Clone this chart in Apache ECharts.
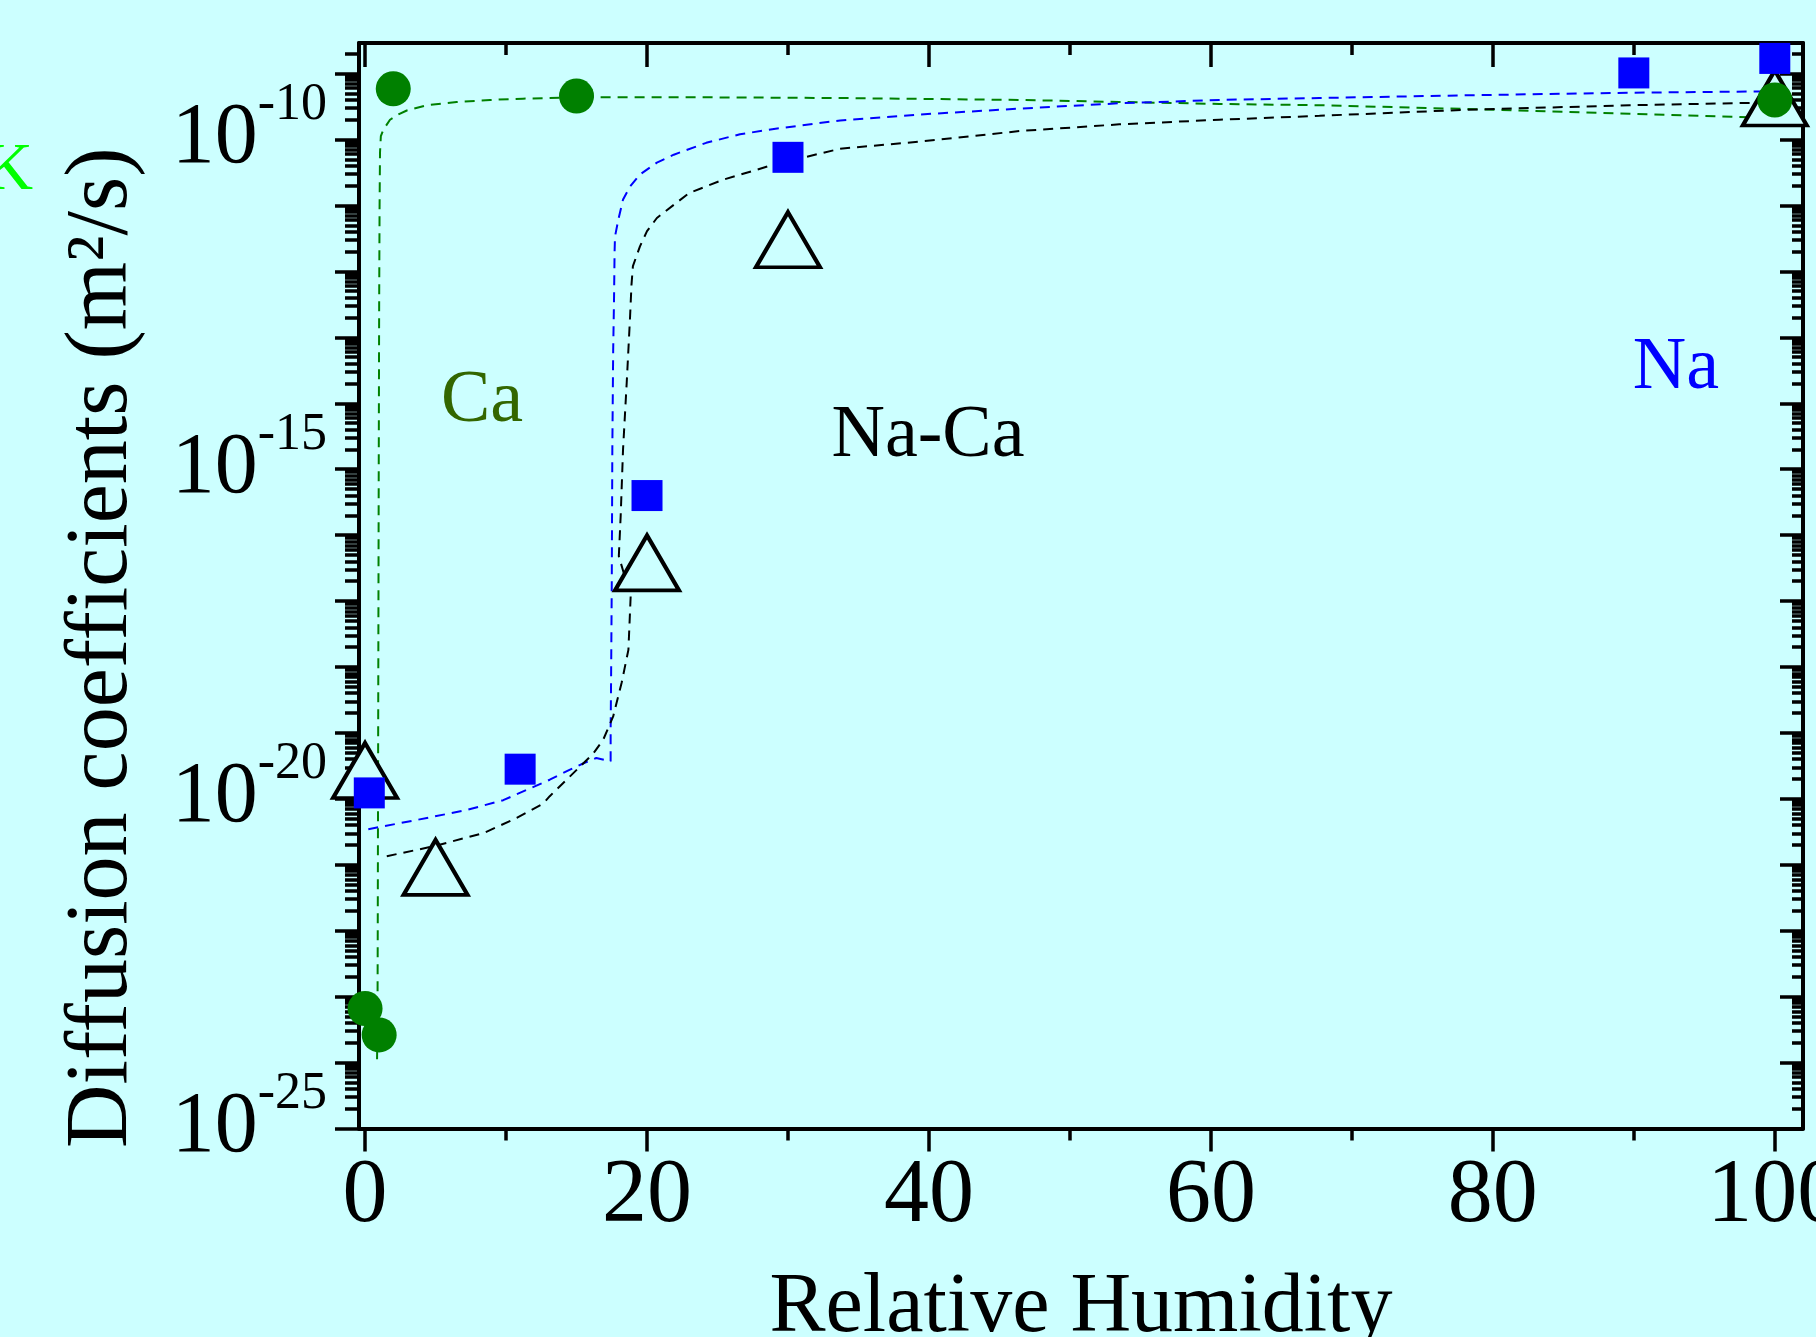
<!DOCTYPE html>
<html>
<head>
<meta charset="utf-8">
<script src="https://cdn.jsdelivr.net/npm/echarts@6/dist/echarts.min.js"></script>
<style>
html,body{margin:0;padding:0;background:#ccffff;}
#chart{width:1816px;height:1337px;}
</style>
</head>
<body>
<div id="chart"></div>
<script>
// ---------- data (relative humidity, log10 of diffusion coefficient in m^2/s) ----------
const rhNa = [0.3, 11, 20, 30, 90, 100];
const log10DNa = [-19.91, -19.55, -15.40, -10.27, -8.99, -8.77];

const rhCa = [0, 1, 2, 15, 100];
const log10DCa = [-23.18, -23.58, -9.23, -9.34, -9.40];

const rhNaCa = [0, 5, 20, 30, 100];
const log10DNaCa = [-19.57, -21.04, -16.42, -11.52, -9.37];

// dashed fit curves
const rhCaFit = [0.85, 0.88, 0.9, 0.92, 0.95, 0.97, 1.0, 1.03, 1.06, 1.12, 1.3, 1.77, 2.37, 2.96, 4.37, 6.5, 8.87, 11.2, 14.8, 24.2, 33.4, 46.5, 53.5, 60.6, 67.7, 80.5, 89.7, 99.4];
const log10DCaFit = [-23.95, -23.5, -22.0, -20.0, -17.0, -15.0, -12.5, -11.0, -10.2, -9.95, -9.85, -9.70, -9.62, -9.56, -9.48, -9.43, -9.40, -9.38, -9.36, -9.36, -9.37, -9.40, -9.43, -9.46, -9.48, -9.55, -9.61, -9.67];

const rhNaFit = [0.23, 3.67, 7.2, 9.8, 13.1, 14.5, 15.5, 16.4, 17.42, 17.42, 17.45, 17.5, 17.54, 17.6, 17.66, 17.7, 17.73, 17.97, 18.3, 18.8, 19.5, 20.7, 21.9, 24.2, 26.6, 29.0, 33.7, 39.4, 46.5, 53.5, 60.6, 67.7, 78, 89.7, 99.4];
const log10DNaFit = [-20.46, -20.32, -20.17, -20.02, -19.71, -19.56, -19.46, -19.38, -19.43, -18.95, -18.24, -16.73, -14.70, -13.2, -12.43, -11.7, -11.47, -11.21, -10.91, -10.71, -10.53, -10.35, -10.23, -10.05, -9.92, -9.84, -9.71, -9.62, -9.53, -9.45, -9.40, -9.37, -9.33, -9.29, -9.27];

const rhNaCaFit = [1.54, 4.85, 8.4, 10.76, 12.65, 13.1, 15.25, 16.2, 16.9, 17.6, 18.2, 18.68, 18.84, 18.0, 18.13, 18.3, 18.56, 18.8, 18.9, 19.0, 19.5, 20.0, 20.7, 21.9, 23.0, 25.4, 29.0, 33.7, 39.4, 46.5, 53.5, 60.6, 67.7, 78, 89.7, 99.4];
const log10DNaCaFit = [-20.87, -20.72, -20.52, -20.29, -20.07, -19.96, -19.51, -19.31, -19.10, -18.75, -18.24, -17.74, -16.93, -16.32, -15.72, -14.70, -13.69, -12.68, -12.2, -11.92, -11.62, -11.39, -11.19, -10.99, -10.81, -10.61, -10.38, -10.14, -10.03, -9.87, -9.77, -9.70, -9.64, -9.55, -9.48, -9.44];

// ticks and labels
const xMajorTicks = [0, 20, 40, 60, 80, 100];
const xMinorTicks = [10, 30, 50, 70, 90];
const yLabelExponents = [-25, -20, -15, -10];
const X_MIN = -0.43, X_MAX = 102;
const Y_MIN_EXP = -25, Y_MAX_EXP = -8.536;

const yDecadeTicks = [];
for (let n = Y_MIN_EXP; n <= Math.floor(Y_MAX_EXP); n++) yDecadeTicks.push(n);
const yMinorTicks = [];
for (let n = Y_MIN_EXP; n <= Math.floor(Y_MAX_EXP); n++) {
  for (let k = 2; k <= 9; k++) {
    const v = n + Math.log10(k);
    if (v < Y_MAX_EXP) yMinorTicks.push(v);
  }
}

const FONT = '"Liberation Serif", "Times New Roman", serif';
const BG = '#ccffff';

function pairs(xs, ls) { return xs.map((x, i) => [x, Math.pow(10, ls[i])]); }

const chart = echarts.init(document.getElementById('chart'), null, {renderer: 'canvas'});

const noLine = {show: false, onZero: false};
const blackLine = {show: true, onZero: false, lineStyle: {color: '#000', width: 4}};

function tickAxisX(pos, values, len, inside, withLine) {
  return {
    type: 'value', position: pos, min: X_MIN, max: X_MAX, gridIndex: 0,
    axisLine: withLine ? blackLine : noLine,
    axisTick: {show: true, customValues: values, length: len, inside: inside, lineStyle: {color: '#000', width: 3.5}},
    axisLabel: {show: false},
    splitLine: {show: false}
  };
}
function tickAxisY(pos, values, len, inside, withLine) {
  return {
    type: 'value', position: pos, min: Y_MIN_EXP, max: Y_MAX_EXP, gridIndex: 0,
    axisLine: withLine ? blackLine : noLine,
    axisTick: {show: true, customValues: values, length: len, inside: inside, lineStyle: {color: '#000', width: 3.5}},
    axisLabel: {show: false},
    splitLine: {show: false}
  };
}

const xMain = {
  type: 'value', position: 'bottom', min: X_MIN, max: X_MAX,
  axisLine: blackLine,
  axisTick: {show: true, customValues: xMajorTicks, length: 23, inside: false, lineStyle: {color: '#000', width: 3.5}},
  axisLabel: {show: true, customValues: xMajorTicks, fontSize: 90, fontFamily: FONT, color: '#000', margin: 24},
  splitLine: {show: false},
  name: 'Relative Humidity', nameLocation: 'middle', nameGap: 138,
  nameTextStyle: {fontSize: 84, fontFamily: FONT, color: '#000'}
};

const yMain = {
  type: 'log', logBase: 10, position: 'left',
  min: Math.pow(10, Y_MIN_EXP), max: Math.pow(10, Y_MAX_EXP),
  axisLine: blackLine,
  axisTick: {show: false}, axisLabel: {show: false}, splitLine: {show: false},
  name: 'Diffusion coefficients (m²/s)', nameLocation: 'middle', nameRotate: 90, nameGap: 212,
  nameTextStyle: {fontSize: 88, fontFamily: FONT, color: '#000', padding: [0, 124, 0, 0]}
};

const yLabels = {
  type: 'value', position: 'left', min: Y_MIN_EXP, max: Y_MAX_EXP,
  axisLine: noLine,
  axisTick: {show: true, customValues: yDecadeTicks, length: 24, inside: false, lineStyle: {color: '#000', width: 3.5}},
  axisLabel: {
    show: true, customValues: yLabelExponents, margin: 32,
    formatter: v => '{b|10}{s|' + Math.round(v) + '}',
    rich: {
      b: {fontSize: 86, fontFamily: FONT, color: '#000', verticalAlign: 'middle', lineHeight: 120},
      s: {fontSize: 52, fontFamily: FONT, color: '#000', verticalAlign: 'top', lineHeight: 52}
    }
  },
  splitLine: {show: false}
};

const option = {
  backgroundColor: BG,
  animation: false,
  grid: {left: 359, right: 13, top: 43, bottom: 208.5, containLabel: false, outerBoundsMode: 'none'},
  xAxis: [
    xMain,
    tickAxisX('bottom', xMinorTicks, 12, false, false),
    tickAxisX('top', xMajorTicks, 24, true, true),
    tickAxisX('top', xMinorTicks, 12, true, false)
  ],
  yAxis: [
    yMain,
    yLabels,
    tickAxisY('left', yMinorTicks, 14, false, false),
    tickAxisY('right', yDecadeTicks, 23, true, true),
    tickAxisY('right', yMinorTicks, 11, true, false)
  ],
  graphic: [
    {type: 'text', z: 50, style: {text: 'K', x: 33, y: 171, fill: '#00ff00', font: '68px ' + FONT, align: 'right', verticalAlign: 'middle'}},
    {type: 'text', z: 50, style: {text: 'Ca', x: 482, y: 402, fill: '#336600', font: '74px ' + FONT, align: 'center', verticalAlign: 'middle'}},
    {type: 'text', z: 50, style: {text: 'Na-Ca', x: 928, y: 437, fill: '#000000', font: '74px ' + FONT, align: 'center', verticalAlign: 'middle'}},
    {type: 'text', z: 50, style: {text: 'Na', x: 1676, y: 369, fill: '#0000ff', font: '74px ' + FONT, align: 'center', verticalAlign: 'middle'}}
  ],
  series: [
    {name: 'Ca fit', type: 'line', xAxisIndex: 0, yAxisIndex: 0, data: pairs(rhCaFit, log10DCaFit),
     showSymbol: false, symbol: 'none', silent: true, z: 2,
     lineStyle: {color: '#008000', width: 2, type: [10, 7], opacity: 1}},
    {name: 'Na fit', type: 'line', xAxisIndex: 0, yAxisIndex: 0, data: pairs(rhNaFit, log10DNaFit),
     showSymbol: false, symbol: 'none', silent: true, z: 2,
     lineStyle: {color: '#0000ff', width: 2, type: [10, 7], opacity: 1}},
    {name: 'Na-Ca fit', type: 'line', xAxisIndex: 0, yAxisIndex: 0, data: pairs(rhNaCaFit, log10DNaCaFit),
     showSymbol: false, symbol: 'none', silent: true, z: 2,
     lineStyle: {color: '#000000', width: 2, type: [10, 7], opacity: 1}},
    {name: 'Na-Ca', type: 'scatter', xAxisIndex: 0, yAxisIndex: 0, data: pairs(rhNaCa, log10DNaCa),
     symbol: 'triangle', symbolSize: [64, 55], silent: true, z: 3,
     itemStyle: {color: BG, borderColor: '#000', borderWidth: 4, opacity: 1}},
    {name: 'Na', type: 'scatter', xAxisIndex: 0, yAxisIndex: 0, data: pairs(rhNa, log10DNa),
     symbol: 'rect', symbolSize: 31, silent: true, z: 4,
     itemStyle: {color: '#0000ff', opacity: 1}},
    {name: 'Ca', type: 'scatter', xAxisIndex: 0, yAxisIndex: 0, data: pairs(rhCa, log10DCa),
     symbol: 'circle', symbolSize: 35, silent: true, z: 5,
     itemStyle: {color: '#008000', opacity: 1}}
  ]
};
chart.setOption(option);
</script>
</body>
</html>
